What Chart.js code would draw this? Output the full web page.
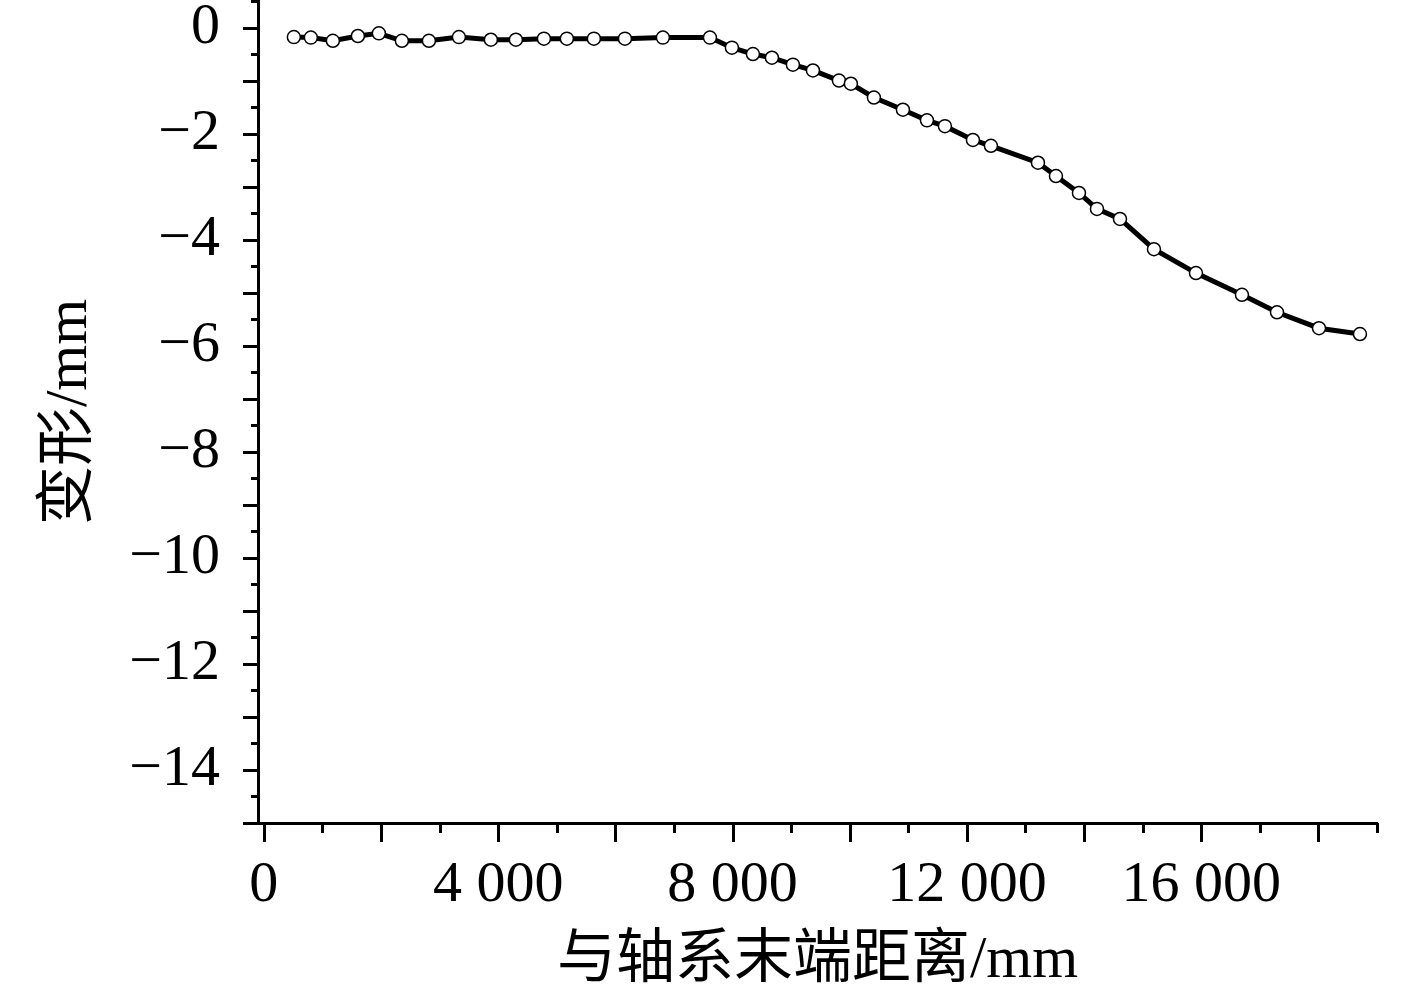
<!DOCTYPE html>
<html>
<head>
<meta charset="utf-8">
<script src="https://cdn.jsdelivr.net/npm/chart.js@4.4.1/dist/chart.umd.min.js"></script>
<style>
  html, body { margin: 0; padding: 0; background: #fff; }
  #wrap { width: 1417px; height: 988px; }
</style>
</head>
<body>
<div id="wrap"><canvas id="deformChart" width="1417" height="988"></canvas></div>
<script>
// distance from shaft end (mm) and measured deformation (mm)
const distance = [512, 802, 1178, 1605, 1963, 2356, 2817, 3329, 3875, 4302,
  4780, 5172, 5633, 6163, 6811, 7614, 7989, 8348, 8672, 9030,
  9372, 9816, 10020, 10413, 10908, 11318, 11625, 12103, 12410, 13213,
  13520, 13913, 14220, 14613, 15193, 15910, 16695, 17293, 18010, 18709];
const deformation = [-0.18, -0.19, -0.25, -0.16, -0.11, -0.25, -0.25, -0.18, -0.23, -0.23,
  -0.21, -0.21, -0.21, -0.21, -0.19, -0.19, -0.38, -0.50, -0.57, -0.70,
  -0.81, -1.00, -1.06, -1.32, -1.55, -1.75, -1.86, -2.12, -2.23, -2.55,
  -2.80, -3.12, -3.42, -3.61, -4.18, -4.63, -5.04, -5.37, -5.67, -5.78];

const xTickLabels = [0, 4000, 8000, 12000, 16000];
const yTickLabels = [0, -2, -4, -6, -8, -10, -12, -14];
const xTitle = '与轴系末端距离/mm';
const yTitle = '变形/mm';

const serif = "'Liberation Serif', 'Noto Sans CJK SC', serif";

// small tick marks drawn from the scales themselves
const tickMarks = {
    id: 'tickMarks',
    afterDraw(chart) {
        const ctx = chart.ctx;
        const xs = chart.scales.x, ys = chart.scales.y;
        const area = chart.chartArea;
        ctx.save();
        ctx.strokeStyle = '#000';
        ctx.lineWidth = 3;
        ctx.beginPath();
        // x axis runs a little past the y axis on the left
        ctx.moveTo(area.left - 14, area.bottom + 0.5);
        ctx.lineTo(area.left, area.bottom + 0.5);
        for (let v = 0; v <= xs.max; v += 1000) {
            const px = Math.round(xs.getPixelForValue(v)) + 0.5;
            const len = v % 2000 === 0 ? 19 : 10;
            ctx.moveTo(px, area.bottom);
            ctx.lineTo(px, area.bottom + len);
        }
        for (let v = ys.min; v <= ys.max + 1e-9; v += 0.5) {
            const py = Math.round(ys.getPixelForValue(v)) + 0.5;
            const len = Number.isInteger(v) ? 15 : 7;
            ctx.moveTo(area.left, py);
            ctx.lineTo(area.left - len, py);
        }
        ctx.stroke();
        ctx.restore();
    }
};

const ctx = document.getElementById('deformChart').getContext('2d');
window.deformChart = new Chart(ctx, {
    type: 'line',
    data: {
        datasets: [{
            data: distance.map((d, i) => ({ x: d, y: deformation[i] })),
            borderColor: '#000',
            borderWidth: 5,
            pointRadius: 6.5,
            pointBorderWidth: 1.5,
            pointBackgroundColor: '#fff',
            pointBorderColor: '#000',
            tension: 0,
            fill: false
        }]
    },
    options: {
        responsive: false,
        animation: false,
        layout: { autoPadding: false, padding: { top: 1, right: 40, bottom: 0, left: 0 } },
        plugins: {
            legend: { display: false },
            tooltip: { enabled: false }
        },
        scales: {
            x: {
                type: 'linear',
                min: -100,
                max: 19000,
                afterFit: (s) => { s.height = 165; s.paddingLeft = 0; s.paddingRight = 0; },
                afterBuildTicks: (s) => { s.ticks = xTickLabels.map(v => ({ value: v })); },
                grid: { display: false },
                border: { display: true, color: '#000', width: 3 },
                ticks: {
                    padding: 20,
                    maxRotation: 0,
                    color: '#000',
                    font: { family: serif, size: 58 },
                    callback: (v) => v >= 1000 ? String(Math.floor(v / 1000)) + ' 000' : String(v)
                },
                title: {
                    display: true,
                    text: xTitle,
                    color: '#000',
                    font: { family: serif, size: 59 },
                    padding: { top: 0, bottom: -9 }
                }
            },
            y: {
                type: 'linear',
                min: -15,
                max: 0.5,
                afterFit: (s) => { s.width = 258; s.paddingTop = 0; s.paddingBottom = 0; },
                afterBuildTicks: (s) => { s.ticks = yTickLabels.map(v => ({ value: v })); },
                grid: { display: false },
                border: { display: true, color: '#000', width: 3 },
                ticks: {
                    padding: 30,
                    color: '#000',
                    font: { family: serif, size: 58 },
                    callback: (v) => v < 0 ? '\u2212' + Math.abs(v) : String(v)
                },
                title: {
                    display: true,
                    text: yTitle,
                    color: '#000',
                    font: { family: serif, size: 59 },
                    padding: { top: 35, bottom: 0 }
                }
            }
        }
    },
    plugins: [tickMarks]
});
</script>
</body>
</html>
